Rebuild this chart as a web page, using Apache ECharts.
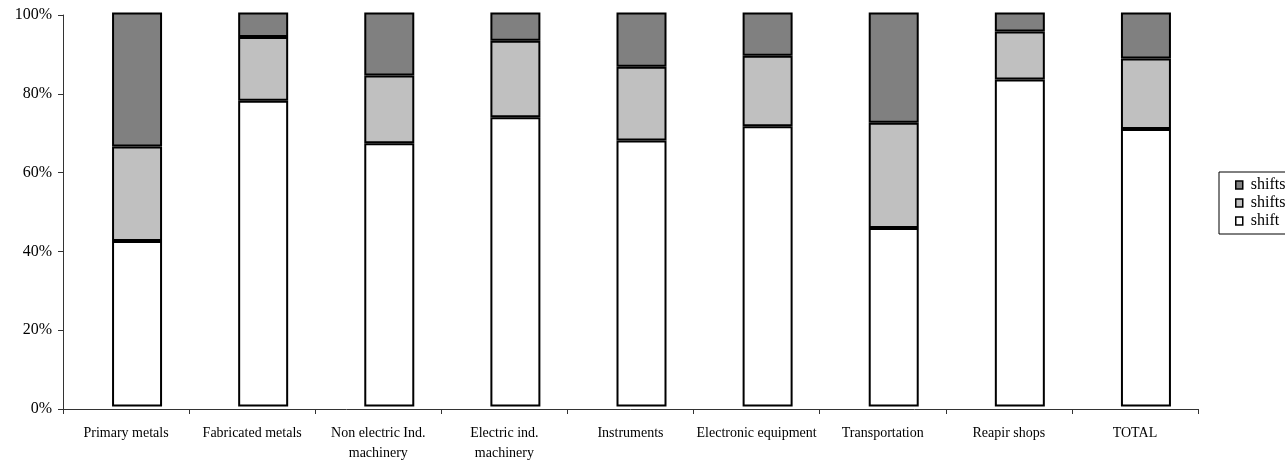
<!DOCTYPE html>
<html>
<head>
<meta charset="utf-8">
<script src="https://cdn.jsdelivr.net/npm/echarts@6/dist/echarts.min.js"></script>
<style>
html,body{margin:0;padding:0;background:#fff;}
#chart{width:1285px;height:465px;}
</style>
</head>
<body>
<div id="chart"></div>
<script>
// ---- data ----
const categories = ['Primary metals', 'Fabricated metals', 'Non electric Ind.\nmachinery', 'Electric ind.\nmachinery', 'Instruments', 'Electronic equipment', 'Transportation', 'Reapir shops', 'TOTAL'];
const oneShift   = [42.0, 77.6, 66.8, 73.4, 67.5, 71.1, 45.3, 83.0, 70.4];
const twoShifts  = [24.0, 16.2, 17.2, 19.4, 18.7, 17.9, 26.7, 12.2, 17.9];
const threeShifts= [34.0,  6.2, 16.0,  7.2, 13.8, 11.0, 28.0,  4.8, 11.7];
const seriesNames = ['1 shift', '2 shifts', '3 shifts'];
const legendLabels = {'1 shift': 'shift', '2 shifts': 'shifts', '3 shifts': 'shifts'};

const font = '"Liberation Serif", "Times New Roman", serif';
const chart = echarts.init(document.getElementById('chart'), null, {renderer: 'canvas'});

function barSeries(name, data, color) {
  return {
    name: name, type: 'bar', stack: 'total',
    xAxisIndex: 1, yAxisIndex: 1,
    data: data, barWidth: 50,
    itemStyle: {color: color, borderColor: '#000', borderWidth: 2},
    emphasis: {disabled: true}
  };
}

chart.setOption({
  animation: false,
  backgroundColor: '#fff',
  grid: [
    {left: 63, right: 87, top: 15, bottom: 56},
    {left: 74, right: 76, top: 12.5, bottom: 58.5}
  ],
  legend: {
    orient: 'vertical',
    left: 1219, top: 172,
    data: ['3 shifts', '2 shifts', '1 shift'],
    formatter: n => legendLabels[n],
    icon: 'rect',
    itemWidth: 7, itemHeight: 8,
    itemGap: 2,
    padding: [5, 20, 5, 16],
    borderColor: '#000', borderWidth: 1,
    itemStyle: {borderColor: '#000', borderWidth: 1.5},
    textStyle: {fontFamily: font, fontSize: 16, color: '#000', lineHeight: 16, padding: [0, 0, 0, 3]},
    selectedMode: false
  },
  xAxis: [
    {
      type: 'category', gridIndex: 0, data: categories,
      axisLine: {lineStyle: {color: '#333', width: 1}},
      axisTick: {show: true, length: 5, lineStyle: {color: '#333'}},
      axisLabel: {fontFamily: font, fontSize: 14, color: '#000', margin: 14, lineHeight: 20, interval: 0}
    },
    {
      type: 'category', gridIndex: 1, data: categories, show: false
    }
  ],
  yAxis: [
    {
      type: 'value', gridIndex: 0, min: 0, max: 100, interval: 20,
      axisLine: {show: true, lineStyle: {color: '#333', width: 1}},
      axisTick: {show: true, length: 5, lineStyle: {color: '#333'}},
      splitLine: {show: false},
      axisLabel: {fontFamily: font, fontSize: 16, color: '#000', margin: 11, formatter: '{value}%'}
    },
    {
      type: 'value', gridIndex: 1, min: 0, max: 100, interval: 20, show: false, splitLine: {show: false}
    }
  ],
  series: [
    barSeries(seriesNames[0], oneShift, '#ffffff'),
    barSeries(seriesNames[1], twoShifts, '#c0c0c0'),
    barSeries(seriesNames[2], threeShifts, '#808080')
  ]
});
</script>
</body>
</html>
